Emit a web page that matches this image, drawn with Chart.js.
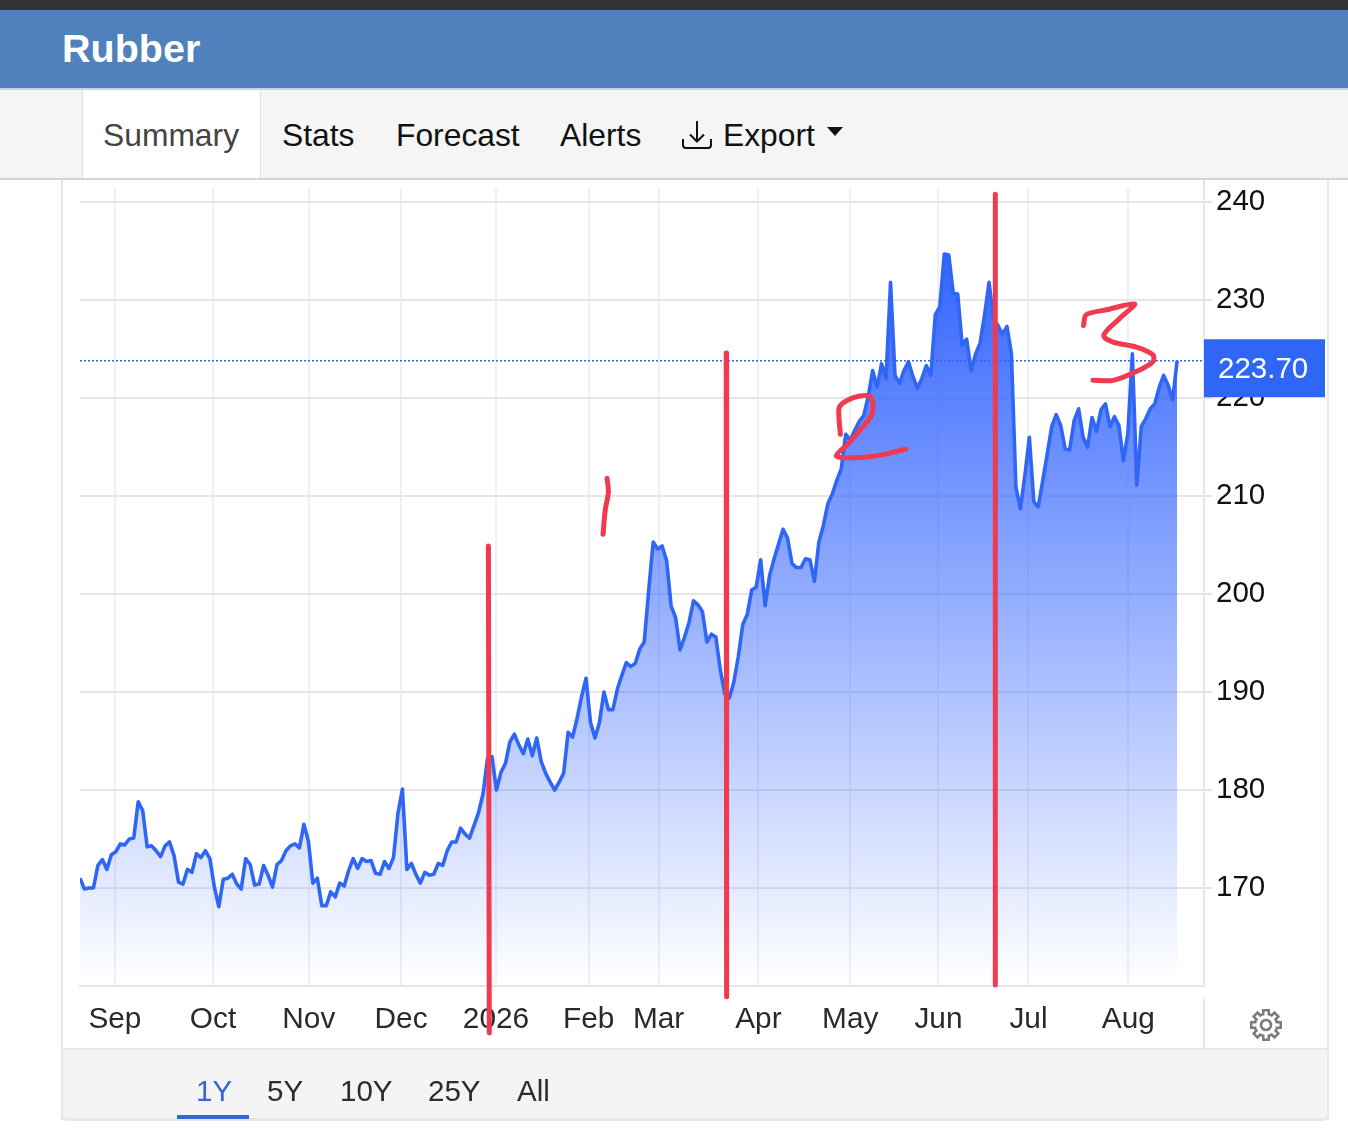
<!DOCTYPE html>
<html>
<head>
<meta charset="utf-8">
<title>Rubber</title>
<script src="https://cdn.jsdelivr.net/npm/chart.js@4"></script>
<style>
  html, body { margin: 0; padding: 0; background: #fff; }
  body { position: relative; width: 1348px; height: 1135px; overflow: hidden; font-family: "Liberation Sans", Arial, sans-serif; }
  .abs { position: absolute; }
  .txt { position: absolute; white-space: nowrap; line-height: 1; }
  #topbar { left: 0; top: 0; width: 1348px; height: 10px; background: #323335; }
  #header { left: 0; top: 10px; width: 1348px; height: 78px; background: #4f81bd; border-bottom: 2px solid #c4d3e6; }
  #nav { left: 0; top: 90px; width: 1348px; height: 88px; background: #f5f5f5; border-bottom: 2px solid #d4d4d4; }
  #tab { left: 82px; top: 90px; width: 177px; height: 88px; background: #fff; border-left: 1px solid #dedede; border-right: 1px solid #dedede; }
  #card-left { left: 61px; top: 180px; width: 2px; height: 940px; background: #e7e7e9; }
  #card-right { left: 1327px; top: 180px; width: 2px; height: 940px; background: #e7e7e9; }
  #footer { left: 61px; top: 1048px; width: 1264px; height: 68px; background: #f4f4f5; border: 2px solid #e7e7e9; border-bottom: 3px solid #e7e7e9; border-radius: 0 0 6px 6px; box-sizing: content-box; }
  #sep-a { left: 1203px; top: 180px; width: 2px; height: 806px; background: #e6e6e8; }
  #sep-b { left: 1203px; top: 999px; width: 2px; height: 50px; background: #e6e6e8; }
  #range-bar { left: 177px; top: 1115px; width: 72px; height: 4px; background: #3564d6; }
  canvas { position: absolute; left: 0; top: 0; }
  .nav-item { font-size: 31.8px; top: 120px; color: #111; }
  .range { font-size: 29.5px; top: 1076px; color: #2c2c2e; }
</style>
</head>
<body>
<div class="abs" id="card-left"></div>
<div class="abs" id="card-right"></div>
<div class="abs" id="footer"></div>
<div class="abs" id="sep-a"></div>
<div class="abs" id="sep-b"></div>
<canvas id="rubberChart" width="1348" height="1135"></canvas>

<div class="abs" id="topbar"></div>
<div class="abs" id="header"></div>
<div class="txt" style="left:62px;top:29px;font-size:39.5px;font-weight:bold;color:#fff;">Rubber</div>
<div class="abs" id="nav"></div>
<div class="abs" id="tab"></div>
<div class="txt nav-item" style="left:103px;color:#444;">Summary</div>
<div class="txt nav-item" style="left:282px;">Stats</div>
<div class="txt nav-item" style="left:396px;">Forecast</div>
<div class="txt nav-item" style="left:560px;">Alerts</div>
<svg class="abs" style="left:680px;top:119px;" width="34" height="32" viewBox="0 0 34 32" fill="none" stroke="#111" stroke-width="2">
  <path d="M17 2V22M10 15.5L17 22.5L24 15.5"/>
  <path d="M3 20V26Q3 29 6 29H28Q31 29 31 26V20"/>
</svg>
<div class="txt nav-item" style="left:723px;">Export</div>
<svg class="abs" style="left:827px;top:127px;" width="16" height="9"><path d="M0 0H16L8 9Z" fill="#111"/></svg>

<svg class="abs" style="left:1248px;top:1007px;" width="36" height="36" viewBox="-18 -18 36 36">
  <g fill="#7b7b7b">
    <rect x="-4" y="-16" width="8" height="7"/>
    <rect x="-4" y="-16" width="8" height="7" transform="rotate(45)"/>
    <rect x="-4" y="-16" width="8" height="7" transform="rotate(90)"/>
    <rect x="-4" y="-16" width="8" height="7" transform="rotate(135)"/>
    <rect x="-4" y="-16" width="8" height="7" transform="rotate(180)"/>
    <rect x="-4" y="-16" width="8" height="7" transform="rotate(225)"/>
    <rect x="-4" y="-16" width="8" height="7" transform="rotate(270)"/>
    <rect x="-4" y="-16" width="8" height="7" transform="rotate(315)"/>
    <circle r="12.5"/>
  </g>
  <g fill="#fff">
    <rect x="-1.5" y="-13.5" width="3" height="5"/>
    <rect x="-1.5" y="-13.5" width="3" height="5" transform="rotate(45)"/>
    <rect x="-1.5" y="-13.5" width="3" height="5" transform="rotate(90)"/>
    <rect x="-1.5" y="-13.5" width="3" height="5" transform="rotate(135)"/>
    <rect x="-1.5" y="-13.5" width="3" height="5" transform="rotate(180)"/>
    <rect x="-1.5" y="-13.5" width="3" height="5" transform="rotate(225)"/>
    <rect x="-1.5" y="-13.5" width="3" height="5" transform="rotate(270)"/>
    <rect x="-1.5" y="-13.5" width="3" height="5" transform="rotate(315)"/>
    <circle r="10"/>
  </g>
  <circle r="5" fill="none" stroke="#7b7b7b" stroke-width="2.6"/>
</svg>

<div class="txt range" style="left:196px;color:#3564d6;">1Y</div>
<div class="txt range" style="left:267px;">5Y</div>
<div class="txt range" style="left:340px;">10Y</div>
<div class="txt range" style="left:428px;">25Y</div>
<div class="txt range" style="left:517px;">All</div>
<div class="abs" id="range-bar"></div>

<script>
// tick labels and where they sit (session number since the start of the window)
const monthLabels = ["Sep", "Oct", "Nov", "Dec", "2026", "Feb", "Mar", "Apr", "May", "Jun", "Jul", "Aug"];
const monthSessions = [7.8, 29.7, 51.1, 71.7, 92.9, 113.6, 129.2, 151.5, 172, 191.7, 211.8, 234.1];
const priceTicks = [170, 180, 190, 200, 210, 220, 230, 240];
const lastPrice = 223.7;

// daily close
const prices = [
  171.0, 169.9, 170.0, 170.0, 172.3, 172.9, 171.9, 173.4, 173.7, 174.5,
  174.4, 175.0, 175.1, 178.8, 177.9, 174.2, 174.3, 173.8, 173.2, 174.3,
  174.7, 173.3, 170.6, 170.4, 171.9, 171.6, 173.5, 173.1, 173.8, 173.0,
  170.1, 168.1, 170.9, 171.0, 171.4, 170.4, 169.9, 173.0, 172.4, 170.3,
  170.4, 172.3, 171.3, 170.1, 172.4, 172.8, 173.8, 174.3, 174.5, 174.1,
  176.5, 174.8, 170.5, 171.0, 168.2, 168.2, 169.6, 169.1, 170.5, 170.2,
  171.8, 173.0, 172.0, 173.0, 172.7, 172.8, 171.5, 171.4, 172.7, 172.0,
  173.1, 177.6, 180.1, 171.9, 172.5, 171.4, 170.5, 171.6, 171.3, 171.4,
  172.5, 172.3, 173.8, 174.7, 174.7, 176.1, 175.5, 175.1, 176.4, 177.7,
  179.6, 183.2, 183.4, 180.0, 181.8, 182.7, 184.9, 185.7, 184.6, 183.7,
  185.2, 183.5, 185.3, 182.9, 181.7, 180.8, 180.0, 180.8, 181.7, 185.9,
  185.4, 187.3, 189.5, 191.4, 186.9, 185.3, 186.9, 190.0, 188.2, 188.2,
  190.3, 191.7, 193.0, 192.6, 192.9, 194.4, 195.1, 200.4, 205.3, 204.6,
  204.9, 203.4, 198.8, 197.6, 194.3, 195.6, 197.1, 199.3, 198.9, 198.2,
  195.1, 195.9, 195.6, 192.2, 189.8, 189.4, 191.0, 193.6, 196.9, 197.9,
  200.4, 200.7, 203.5, 198.8, 201.9, 203.6, 205.1, 206.6, 205.7, 203.1,
  202.7, 202.7, 203.6, 203.5, 201.3, 205.3, 207.0, 209.2, 210.2, 211.6,
  212.8, 216.3, 215.7, 216.7, 217.6, 218.2, 220.1, 222.8, 221.1, 223.5,
  222.0, 231.8, 222.3, 221.5, 222.8, 223.7, 222.2, 221.0, 222.0, 223.3,
  222.3, 228.5, 229.3, 234.7, 234.6, 230.7, 230.6, 225.4, 226.0, 222.8,
  224.5, 225.6, 228.5, 231.8, 228.1, 227.4, 226.5, 227.3, 224.5, 210.9,
  208.7, 212.1, 216.0, 209.4, 208.9, 211.6, 214.3, 217.1, 218.3, 217.2,
  214.8, 214.7, 217.7, 218.9, 216.0, 215.0, 218.0, 216.6, 218.8, 219.4,
  217.1, 218.1, 217.2, 213.6, 216.4, 224.5, 211.1, 217.1, 217.9, 218.9,
  219.4, 221.1, 222.3, 221.3, 219.8, 223.8
];

// the red pen marks somebody drew over the screenshot, [session, price]
const penLine1 = [[91.2, 204.9], [91.4, 155.2]];
const penLine2 = [[144.3, 224.6], [144.4, 158.9]];
const penLine3 = [[204.4, 240.8], [204.4, 160.1]];
const penOne = [[117.7, 211.8], [118.0, 210.4], [117.3, 208.6], [116.8, 206.1]];
const penTwo = [[169.8, 216.3], [169.5, 217.9], [169.6, 219.1], [171.5, 219.8], [174.1, 220.2],
  [176.3, 220.2], [177.1, 219.4], [176.7, 218.2], [174.5, 216.9], [171.9, 215.5],
  [168.9, 214.1], [171.9, 213.9], [176.3, 214.0], [180.1, 214.3], [184.4, 214.8]];
const penThree = [[224.1, 227.4], [224.7, 228.5], [229.2, 229.0], [235.5, 229.6], [232.1, 228.1],
  [228.6, 226.4], [230.7, 225.7], [235.9, 225.2], [239.6, 224.4], [239.6, 223.7],
  [235.9, 222.7], [230.7, 221.8], [226.2, 221.8]];

const lineBlue = "#2f66f5";
const penRed = "#ef3a50";

function penDataset(points, width, tension) {
  return {
    data: points.map(p => ({ x: p[0], y: p[1] })),
    borderColor: penRed,
    borderWidth: width,
    borderCapStyle: "round",
    borderJoinStyle: "round",
    tension: tension,
    pointRadius: 0,
    fill: false,
    clip: false,
    order: 0
  };
}

// blue fade under the price line
function areaFill(context) {
  const area = context.chart.chartArea;
  if (!area) return "rgba(50,100,255,0.5)";
  const gradient = context.chart.ctx.createLinearGradient(0, 250, 0, area.bottom - 4);
  gradient.addColorStop(0, "rgba(50,100,255,1)");
  gradient.addColorStop(1, "rgba(50,100,255,0)");
  return gradient;
}

// last price tag on the axis
const priceTag = {
  id: "priceTag",
  afterDraw(chart) {
    const ctx = chart.ctx;
    const y = chart.scales.y.getPixelForValue(lastPrice) + 6.5;
    ctx.save();
    ctx.fillStyle = lineBlue;
    ctx.fillRect(chart.chartArea.right, y - 29, 121, 58);
    ctx.fillStyle = "#fff";
    ctx.font = "29.5px 'Liberation Sans'";
    ctx.textAlign = "left";
    ctx.textBaseline = "middle";
    ctx.fillText(lastPrice.toFixed(2), 1218, y + 2);
    ctx.restore();
  }
};

new Chart(document.getElementById("rubberChart"), {
  type: "line",
  plugins: [priceTag],
  data: {
    datasets: [
      penDataset(penLine1, 5, 0),
      penDataset(penLine2, 5, 0),
      penDataset(penLine3, 5, 0),
      penDataset(penOne, 5, 0.3),
      penDataset(penTwo, 5, 0.3),
      penDataset(penThree, 5, 0.3),
      {
        data: prices.map((p, i) => ({ x: i, y: p })),
        borderColor: lineBlue,
        borderWidth: 3.6,
        borderJoinStyle: "round",
        backgroundColor: areaFill,
        fill: "start",
        pointRadius: 0,
        tension: 0,
        order: 1
      },
      {
        data: [{ x: 0, y: lastPrice + 0.1 }, { x: 251, y: lastPrice + 0.1 }],
        borderColor: lineBlue,
        borderWidth: 1.5,
        borderDash: [2, 2],
        pointRadius: 0,
        fill: false,
        order: 2
      }
    ]
  },
  options: {
    responsive: false,
    animation: false,
    devicePixelRatio: 1,
    layout: { padding: { left: 80, top: 188, right: 0, bottom: 0 } },
    plugins: { legend: { display: false }, tooltip: { enabled: false } },
    scales: {
      x: {
        type: "linear",
        min: 0,
        max: 251,
        afterBuildTicks: scale => { scale.ticks = monthSessions.map(v => ({ value: v })); },
        afterFit: scale => { scale.height = 149; },
        grid: { color: "#eef0f5", lineWidth: 2, drawTicks: false },
        border: { color: "#e6e6e8", width: 2 },
        ticks: {
          autoSkip: false,
          maxRotation: 0,
          padding: 16,
          color: "#2a2a2c",
          font: { family: "Liberation Sans", size: 29.8 },
          callback: (value, index) => monthLabels[index]
        }
      },
      y: {
        type: "linear",
        position: "right",
        min: 160,
        max: 241.43,
        afterBuildTicks: scale => { scale.ticks = priceTicks.map(v => ({ value: v })); },
        afterFit: scale => { scale.width = 144; },
        grid: { color: "#e6e6e8", lineWidth: 2, tickLength: 8 },
        border: { display: false },
        ticks: {
          padding: 4,
          color: "#111",
          font: { family: "Liberation Sans", size: 29.5 },
          callback: value => value
        }
      }
    }
  }
});
</script>
</body>
</html>
